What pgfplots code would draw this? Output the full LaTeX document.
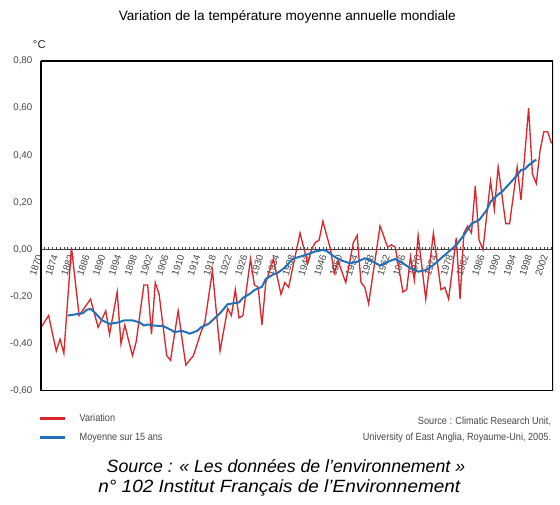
\documentclass[border=0pt]{standalone}
\usepackage{fontspec}
\setmainfont{Liberation Sans}
\newfontfamily\narrowfont[FakeStretch=0.88]{Liberation Sans}
\usepackage{pgfplots}
\pgfplotsset{compat=1.18}

\definecolor{varred}{RGB}{220,38,44}
\definecolor{avgblue}{RGB}{34,112,184}
\definecolor{ticktext}{RGB}{70,70,70}

% annual global temperature anomaly (°C)
\pgfplotstableread{
year anomaly
1870 -0.33
1872 -0.28
1874 -0.43
1875 -0.38
1876 -0.44
1878 0.01
1880 -0.28
1883 -0.21
1885 -0.33
1887 -0.26
1888 -0.36
1890 -0.18
1891 -0.40
1892 -0.32
1894 -0.45
1895 -0.39
1897 -0.15
1898 -0.15
1899 -0.36
1900 -0.14
1901 -0.19
1903 -0.45
1904 -0.47
1906 -0.26
1908 -0.49
1910 -0.45
1912 -0.35
1913 -0.31
1915 -0.09
1917 -0.43
1919 -0.25
1920 -0.28
1921 -0.17
1922 -0.29
1923 -0.28
1925 -0.04
1926 -0.15
1927 -0.16
1928 -0.32
1929 -0.14
1931 -0.04
1933 -0.19
1934 -0.14
1935 -0.16
1938 0.07
1940 -0.06
1941 0.00
1942 0.03
1943 0.04
1944 0.12
1946 0.00
1947 -0.10
1948 -0.05
1950 -0.14
1952 0.03
1953 0.06
1954 -0.14
1955 -0.16
1956 -0.23
1959 0.10
1961 0.01
1962 0.02
1963 0.01
1965 -0.18
1966 -0.17
1967 -0.03
1968 -0.13
1969 0.06
1971 -0.21
1973 0.07
1975 -0.17
1976 -0.16
1977 -0.21
1979 0.05
1980 -0.21
1981 0.07
1982 0.10
1983 0.07
1984 0.27
1985 0.04
1986 0.00
1988 0.29
1989 0.17
1990 0.35
1992 0.11
1993 0.11
1995 0.35
1996 0.21
1998 0.60
1999 0.32
2000 0.28
2001 0.42
2002 0.50
2003 0.50
2004 0.45
}\variation

% 15-year running mean (°C)
\pgfplotstableread{
year mean
1877 -0.280
1879 -0.275
1881 -0.270
1882 -0.256
1883 -0.252
1884 -0.265
1886 -0.300
1888 -0.315
1890 -0.310
1892 -0.300
1894 -0.300
1896 -0.310
1897 -0.322
1898 -0.318
1900 -0.323
1902 -0.324
1904 -0.340
1905 -0.350
1907 -0.345
1908 -0.350
1909 -0.357
1911 -0.345
1912 -0.330
1914 -0.315
1915 -0.300
1917 -0.270
1919 -0.232
1921 -0.227
1922 -0.224
1923 -0.205
1925 -0.186
1926 -0.172
1928 -0.158
1929 -0.125
1931 -0.105
1932 -0.100
1934 -0.077
1936 -0.040
1938 -0.030
1940 -0.020
1942 -0.008
1944 -0.002
1945 -0.006
1947 -0.030
1949 -0.047
1951 -0.058
1953 -0.052
1955 -0.037
1957 -0.050
1959 -0.068
1961 -0.052
1963 -0.040
1965 -0.058
1967 -0.080
1969 -0.094
1971 -0.087
1973 -0.066
1975 -0.037
1977 -0.009
1979 0.019
1981 0.061
1983 0.110
1985 0.125
1987 0.167
1988 0.203
1990 0.234
1991 0.245
1993 0.280
1995 0.316
1996 0.337
1997 0.341
1998 0.358
2000 0.382
}\runningmean

\begin{document}
\begin{tikzpicture}
\path[use as bounding box] (0,0) rectangle (420pt,378.75pt);

\node[font=\fontsize{10.2}{12}\selectfont] at (215.5pt,366pt)
  {Variation de la température moyenne annuelle mondiale};
\node[font=\fontsize{8.5}{10}\selectfont, text=black!85] at (29.5pt,345pt) {°C};

\begin{axis}[
  at={(30.75pt,85.5pt)}, anchor=south west,
  scale only axis, width=384pt, height=247.5pt,
  xmin=1870, xmax=2004.4, ymin=-0.6, ymax=0.8,
  axis x line=middle, axis y line=left,
  axis line style={-},
  x axis line style={black!75, line width=0.6pt},
  y axis line style={black, line width=1.5pt},
  hide obscured x ticks=false, hide obscured y ticks=false,
  major tick length=0pt,
  ytick={-0.6,-0.4,-0.2,0,0.2,0.4,0.6,0.8},
  /pgf/number format/.cd, fixed, fixed zerofill, precision=2, use comma, assume math mode=true,
  /pgfplots/.cd,
  yticklabel style={font=\fontsize{7.3}{8}\selectfont, text=ticktext, xshift=-3pt},
  xtick={1870.00,1874.15,1878.29,1882.44,1886.59,1890.74,1894.88,1899.03,1903.18,
         1907.32,1911.47,1915.62,1919.76,1923.91,1928.06,1932.21,1936.35,1940.50,
         1944.65,1948.79,1952.94,1957.09,1961.23,1965.38,1969.53,1973.68,1977.82,
         1981.97,1986.12,1990.26,1994.41,1998.56,2002.70},
  xticklabels={1870,1874,1882,1886,1890,1894,1898,1902,1906,1910,1914,1918,1922,
               1926,1930,1934,1938,1942,1946,1950,1954,1958,1962,1966,1970,1974,
               1978,1982,1986,1990,1994,1998,2002},
  xticklabel style={font=\fontsize{7.3}{8}\selectfont, text=ticktext, rotate=72,
                    anchor=east, xshift=-3pt, inner sep=1pt},
  minor xtick={1870,1871,...,2004},
  minor tick length=2pt,
  minor x tick style={black!75, line width=0.5pt, yshift=1pt},
  legend style={at={(-0.006,-0.06)}, anchor=north west, draw=none, fill=none,
                font=\narrowfont\fontsize{7.8}{9}\selectfont, text=ticktext,
                row sep=3.5pt, inner sep=0pt},
  legend cell align=left,
  legend image code/.code={\draw[#1, line width=2.2pt] (0pt,0pt) -- (19pt,0pt);
                           \path[draw=none] (0pt,0pt) -- (28pt,0pt);},
]
\addplot[varred, line width=1pt] table[x=year, y=anomaly] {\variation};
\addlegendentry{Variation}
\addplot[avgblue, line width=1.5pt] table[x=year, y=mean] {\runningmean};
\addlegendentry{Moyenne sur 15 ans}
\draw[black, line width=1.5pt] (rel axis cs:0,0) rectangle (rel axis cs:1,1);
\end{axis}

\node[anchor=east, align=right, text=ticktext, inner sep=0pt,
      font=\narrowfont\fontsize{7.8}{12}\selectfont] at (413.5pt,56.25pt)
  {Source : Climatic Research Unit,\\University of East Anglia, Royaume-Uni, 2005.};
\node[font=\itshape\fontsize{13.3}{16.5}\selectfont] at (214.5pt,29.25pt)
  {Source : « Les données de l’environnement »};
\node[font=\itshape\fontsize{13.3}{16.5}\selectfont] at (209.5pt,12.75pt)
  {\scalebox{1.07}[1]{n° 102 Institut Français de l’Environnement}};
\end{tikzpicture}
\end{document}
